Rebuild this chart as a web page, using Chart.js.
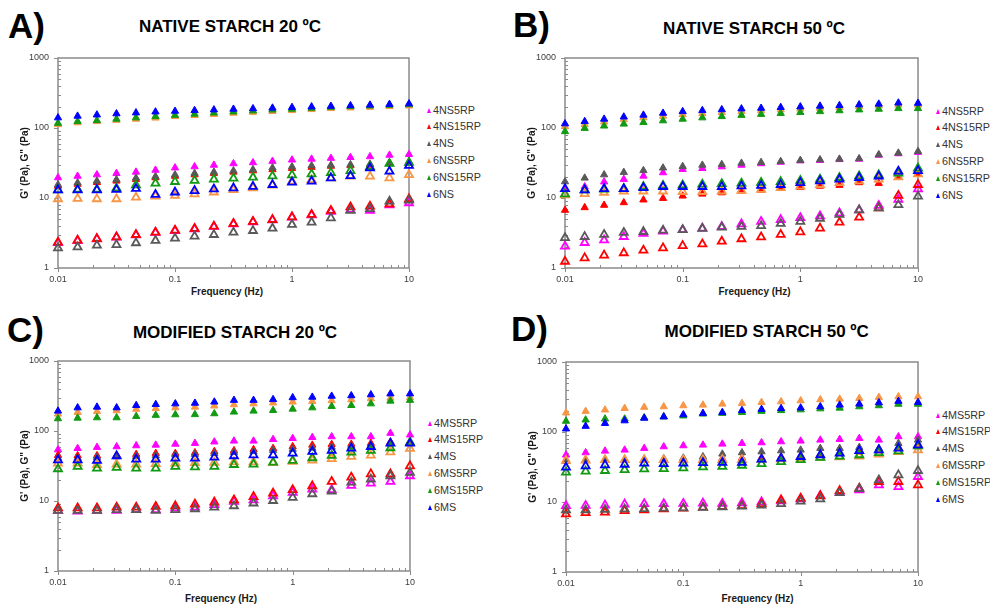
<!DOCTYPE html>
<html>
<head>
<meta charset="utf-8">
<script src="https://cdn.jsdelivr.net/npm/chart.js@4.4.1/dist/chart.umd.min.js"></script>
<style>
  html, body { margin: 0; padding: 0; background: #fff; }
  body { width: 990px; height: 608px; position: relative; overflow: hidden; font-family: Arial, "Liberation Sans", sans-serif; }
  canvas { position: absolute; }
  .letter { position: absolute; font-weight: bold; font-size: 35px; line-height: 35px; color: #000; }
  .title { position: absolute; font-weight: bold; font-size: 17px; line-height: 17px; color: #000; white-space: nowrap; transform: translate(-50%, -50%); }
  .xtitle { position: absolute; font-weight: bold; font-size: 10px; line-height: 10px; color: #1a1a1a; white-space: nowrap; transform: translate(-50%, -50%); }
  .legend { position: absolute; font-size: 10.8px; color: #333; }
  .legend div { height: 16.9px; line-height: 16.9px; white-space: nowrap; }
  .legend i { display: inline-block; width: 0; height: 0; border-left: 2.5px solid transparent; border-right: 2.5px solid transparent; border-bottom: 5px solid; margin-right: 2px; vertical-align: 1px; }
</style>
</head>
<body>
<script>
// oscillation frequencies (Hz), 6 points per decade
const freq = [0.01, 0.0147, 0.0215, 0.0316, 0.0464, 0.0681, 0.1, 0.147, 0.215, 0.316, 0.464, 0.681, 1, 1.47, 2.15, 3.16, 4.64, 6.81, 10];
const xTicks = [0.01, 0.1, 1, 10];
const yTicks = [1, 10, 100, 1000];

const nativeSamples = ['4NS5RP', '4NS15RP', '4NS', '6NS5RP', '6NS15RP', '6NS'];
const modifiedSamples = ['4MS5RP', '4MS15RP', '4MS', '6MS5RP', '6MS15RP', '6MS'];
const sampleColors = ['#ff00ff', '#ff0000', '#595959', '#f79646', '#129a12', '#0000ff'];

// A) native starch 20 ºC  (G1 = G', G2 = G'')
const ns20_4NS5RP_G1 = [19.5, 20.5, 21.5, 22.5, 23.5, 25, 27, 28, 29.5, 31, 32, 33.5, 35, 36, 37, 38, 39, 41, 42];
const ns20_4NS15RP_G1 = [14.8, 15.8, 16.7, 17.5, 18.5, 19.5, 20.5, 21.5, 22.5, 23.5, 24.5, 25.5, 26.5, 27.5, 28.5, 29, 29.5, 31, 32];
const ns20_4NS_G1 = [15.5, 16.5, 17.5, 18.3, 19.3, 20.3, 21.5, 22.5, 23.5, 24.5, 25.5, 27, 28, 29, 29.5, 30, 30.5, 32, 33];
const ns20_6NS5RP_G1 = [112, 119, 124, 129, 134, 139, 146, 151, 157, 163, 168, 173, 178, 184, 190, 194, 198, 203, 207];
const ns20_6NS15RP_G1 = [117, 124, 128, 134, 140, 146, 152, 158, 164, 170, 176, 181, 186, 192, 198, 203, 207, 212, 216];
const ns20_6NS_G1 = [140, 148, 154, 160, 165, 170, 174, 178, 182, 186, 189, 193, 197, 201, 205, 209, 213, 218, 222];
const ns20_4NS5RP_G2 = [2.3, 2.45, 2.6, 2.75, 2.95, 3.2, 3.4, 3.6, 3.9, 4.25, 4.55, 4.85, 5.3, 5.7, 6.4, 6.8, 6.6, 7.9, 8.5];
const ns20_4NS15RP_G2 = [2.33, 2.48, 2.62, 2.77, 2.99, 3.23, 3.45, 3.65, 3.94, 4.3, 4.6, 4.9, 5.35, 5.8, 6.6, 7.4, 7.6, 8.2, 9.7];
const ns20_4NS_G2 = [1.93, 1.99, 2.11, 2.15, 2.28, 2.46, 2.65, 2.83, 2.99, 3.23, 3.41, 3.68, 4.16, 4.5, 5.18, 6.6, 7.0, 8.95, 9.3];
const ns20_6NS5RP_G2 = [9.7, 9.8, 9.7, 9.7, 10.2, 10.6, 10.8, 11.4, 12.1, 13.1, 13.9, 15.2, 17.3, 18.2, 19.3, 20.4, 20.4, 19.3, 21.5];
const ns20_6NS15RP_G2 = [13, 13.3, 13.3, 13.8, 15.3, 16.2, 17.1, 17.7, 18.5, 19.1, 19.7, 20.6, 21.3, 22, 23, 24.5, 28, 31, 32];
const ns20_6NS_G2 = [13, 13, 13, 13.2, 13.6, 11.2, 12.1, 12.7, 13.4, 13.9, 14.6, 15.5, 16.7, 17.3, 19.3, 20.8, 26.8, 24, 29];

// B) native starch 50 ºC
const ns50_4NS5RP_G1 = [13.5, 14.5, 17, 18.5, 20.6, 23, 25.7, 26.5, 28, 29.5, 31, 32.5, 34, 34.5, 35.5, 36, 41, 43, 45];
const ns50_4NS15RP_G1 = [6.7, 7.3, 7.9, 8.6, 9.4, 9.9, 10.7, 11.4, 11.9, 12.6, 13, 13.7, 14.2, 14.8, 15.2, 16.6, 16.2, 19.7, 22];
const ns50_4NS_G1 = [17.1, 19.3, 21.5, 23.3, 24.7, 26.9, 28.3, 29.5, 30.2, 31.5, 32.3, 33.3, 34.5, 35.2, 36, 36.5, 41.6, 43.9, 46.4];
const ns50_6NS5RP_G1 = [105, 113, 122, 132, 140, 148, 156, 162, 167, 172, 177, 182, 187, 192, 197, 202, 207, 213, 213];
const ns50_6NS15RP_G1 = [89, 99, 107, 114, 120, 127, 134, 140, 146, 152, 157, 162, 167, 172, 177, 182, 186, 190, 190];
const ns50_6NS_G1 = [115, 124, 134, 144, 153, 163, 172, 178, 183, 188, 192, 197, 201, 206, 210, 215, 220, 228, 226];
const ns50_4NS5RP_G2 = [2.04, 2.3, 2.5, 2.8, 3.1, 3.35, 3.5, 3.7, 3.9, 4.25, 4.6, 4.9, 5.2, 5.5, 6.1, 6.7, 7.8, 9.5, 13.4];
const ns50_4NS15RP_G2 = [1.24, 1.39, 1.52, 1.64, 1.79, 1.93, 2.08, 2.2, 2.4, 2.6, 2.77, 3.0, 3.27, 3.7, 4.5, 5.3, 7.2, 10.8, 15.5];
const ns50_4NS_G2 = [2.7, 2.8, 3.0, 3.2, 3.3, 3.45, 3.5, 3.65, 3.8, 3.9, 4.0, 4.3, 4.6, 5.1, 5.8, 6.7, 7.2, 8.0, 10.6];
const ns50_6NS5RP_G2 = [11, 11.5, 12, 12.5, 12.5, 12.5, 12.3, 12.3, 12.5, 12.8, 13.2, 14, 14.7, 15.5, 16.5, 17.5, 18.5, 20, 22];
const ns50_6NS15RP_G2 = [11.4, 13, 13.3, 13.5, 14.5, 15, 15.3, 15.7, 15.9, 16.2, 16.6, 17.1, 17.7, 18.5, 19.5, 20.6, 21.3, 22.5, 26.6];
const ns50_6NS_G2 = [13.5, 13, 13.5, 13.5, 14, 14.5, 14.5, 14.5, 14.5, 14.8, 15, 15.5, 16.5, 17.5, 18.5, 19.5, 20.5, 24, 24.5];

// C) modified starch 20 ºC
const ms20_4MS5RP_G1 = [54, 56.5, 58.5, 59.7, 61.7, 63, 65, 66.7, 70, 72, 72, 76, 78.5, 81, 83, 83, 83, 93, 88];
const ms20_4MS15RP_G1 = [45, 44.5, 44.5, 45, 46.5, 48, 48, 49, 51, 52.5, 54.5, 56.5, 60, 63, 64.5, 65, 67, 70, 68];
const ms20_4MS_G1 = [41, 41, 42, 43, 43.5, 44.5, 45.5, 46.5, 48, 49.5, 51, 53, 55, 57, 59, 61, 63, 66, 70];
const ms20_6MS5RP_G1 = [175, 185, 190, 195, 205, 210, 215, 220, 228, 238, 245, 252, 260, 265, 272, 280, 290, 295, 300];
const ms20_6MS15RP_G1 = [150, 153, 155, 155, 162, 168, 171, 172, 177, 187, 193, 197, 206, 215, 225, 232, 245, 268, 275];
const ms20_6MS_G1 = [193, 215, 220, 215, 232, 240, 245, 250, 260, 275, 275, 282, 300, 305, 315, 320, 330, 340, 340];
const ms20_4MS5RP_G2 = [7.3, 7.1, 7.3, 7.3, 7.5, 7.5, 7.9, 8.1, 8.8, 9.8, 10.3, 11.8, 13.2, 14.7, 14.4, 16.6, 17.9, 18.9, 22.8];
const ms20_4MS15RP_G2 = [7.9, 7.9, 7.9, 8.1, 8.1, 8.3, 8.5, 9.0, 9.6, 10.3, 11.5, 12.9, 14.4, 16.4, 18.9, 21.8, 24.3, 24.3, 31.6];
const ms20_4MS_G2 = [7.3, 7.3, 7.3, 7.5, 7.5, 7.3, 7.5, 7.7, 8.1, 8.5, 9.3, 10.1, 11.2, 12.6, 13.8, 18.5, 20.5, 22.8, 25.4];
const ms20_6MS5RP_G2 = [34.5, 34.5, 33, 33.5, 33.5, 34, 34.5, 35, 35.5, 36, 36, 35, 36.5, 38, 40, 43, 45, 50, 56];
const ms20_6MS15RP_G2 = [28.7, 31, 29.3, 30, 29.3, 29.3, 31, 30.5, 31, 33, 33.5, 35.7, 37.8, 41.2, 44.6, 49.6, 52.4, 57.3, 69];
const ms20_6MS_G2 = [38.5, 38.5, 37.7, 44, 39.4, 39.4, 40.7, 40.7, 42, 44, 45.4, 45.4, 48, 50.7, 52.4, 56.6, 59.7, 66.7, 66.7];

// D) modified starch 50 ºC
const ms50_4MS5RP_G1 = [47, 50.7, 53.5, 55.3, 58.5, 61.7, 63.8, 65.2, 67.4, 68.9, 70.4, 72.8, 74.4, 76.8, 78.6, 81.2, 76.8, 85.8, 85.8];
const ms50_4MS15RP_G1 = [40, 40, 40, 40, 40, 40.5, 41, 41.5, 42, 42.5, 43, 44, 46, 48, 50, 52, 54, 60, 66];
const ms50_4MS_G1 = [38, 39, 39.5, 40, 41, 41.5, 42.5, 44.4, 48.5, 50.7, 52.3, 54, 55.3, 58.5, 58.5, 60.4, 58.5, 68.9, 76.8];
const ms50_6MS5RP_G1 = [188, 198, 207, 218, 226, 230, 238, 243, 251, 257, 265, 271, 280, 290, 296, 303, 313, 320, 320];
const ms50_6MS15RP_G1 = [143, 149, 154, 154, 160, 165, 170, 181, 185, 191, 198, 203, 208, 215, 220, 230, 238, 250, 250];
const ms50_6MS_G1 = [111, 121, 133, 145, 158, 165, 177, 185, 191, 203, 211, 217, 221, 230, 243, 251, 262, 275, 265];
const ms50_4MS5RP_G2 = [8.8, 8.9, 9.0, 9.3, 9.4, 9.4, 9.5, 9.6, 9.5, 9.7, 10, 10.3, 11, 12.3, 13.8, 14.8, 17.5, 16.5, 23];
const ms50_4MS15RP_G2 = [6.7, 7.0, 7.1, 7.5, 7.7, 7.9, 8.1, 8.4, 8.6, 8.8, 9.4, 10.7, 11.3, 12.2, 14.5, 15.7, 19.5, 19.5, 17.5];
const ms50_4MS_G2 = [7.7, 7.7, 7.8, 7.9, 8.0, 8.1, 8.2, 8.3, 8.5, 8.7, 9.0, 9.4, 10.2, 11, 13.5, 15.5, 20.6, 24.3, 28];
const ms50_6MS5RP_G2 = [39, 39.5, 40, 40, 40, 40, 40, 40, 40, 40, 40.5, 41, 42, 43, 44, 45, 48, 52, 55];
const ms50_6MS15RP_G2 = [26.5, 27.5, 28, 28.8, 29.5, 29.8, 30.5, 31.5, 32, 33.3, 35, 37.5, 40, 43, 45, 47, 50.5, 53.5, 63];
const ms50_6MS_G2 = [31.3, 32.7, 33.8, 34.4, 35.7, 35, 35.7, 36.3, 36.5, 36.5, 40.7, 42, 44.4, 47, 49.6, 54, 55.3, 58.5, 65.2];

const panels = [
  { letter: 'A)', title: 'NATIVE STARCH 20 ºC', names: nativeSamples,
    g1: [ns20_4NS5RP_G1, ns20_4NS15RP_G1, ns20_4NS_G1, ns20_6NS5RP_G1, ns20_6NS15RP_G1, ns20_6NS_G1],
    g2: [ns20_4NS5RP_G2, ns20_4NS15RP_G2, ns20_4NS_G2, ns20_6NS5RP_G2, ns20_6NS15RP_G2, ns20_6NS_G2] },
  { letter: 'B)', title: 'NATIVE STARCH 50 ºC', names: nativeSamples,
    g1: [ns50_4NS5RP_G1, ns50_4NS15RP_G1, ns50_4NS_G1, ns50_6NS5RP_G1, ns50_6NS15RP_G1, ns50_6NS_G1],
    g2: [ns50_4NS5RP_G2, ns50_4NS15RP_G2, ns50_4NS_G2, ns50_6NS5RP_G2, ns50_6NS15RP_G2, ns50_6NS_G2] },
  { letter: 'C)', title: 'MODIFIED STARCH 20 ºC', names: modifiedSamples,
    g1: [ms20_4MS5RP_G1, ms20_4MS15RP_G1, ms20_4MS_G1, ms20_6MS5RP_G1, ms20_6MS15RP_G1, ms20_6MS_G1],
    g2: [ms20_4MS5RP_G2, ms20_4MS15RP_G2, ms20_4MS_G2, ms20_6MS5RP_G2, ms20_6MS15RP_G2, ms20_6MS_G2] },
  { letter: 'D)', title: 'MODIFIED STARCH 50 ºC', names: modifiedSamples,
    g1: [ms50_4MS5RP_G1, ms50_4MS15RP_G1, ms50_4MS_G1, ms50_6MS5RP_G1, ms50_6MS15RP_G1, ms50_6MS_G1],
    g2: [ms50_4MS5RP_G2, ms50_4MS15RP_G2, ms50_4MS_G2, ms50_6MS5RP_G2, ms50_6MS15RP_G2, ms50_6MS_G2] }
];

// page placement of each panel: plot area [left, top, right, bottom]
const boxes = [
  { letter: [8, 8], title: [230, 26], area: [58, 58, 409, 268], xTitle: [227, 292], legend: [427, 101.6] },
  { letter: [513, 6.5], title: [754, 27.5], area: [565, 58, 918, 268], xTitle: [754.5, 292], legend: [936, 102.6] },
  { letter: [7, 312], title: [235, 332], area: [58, 361, 410, 571], xTitle: [221, 599], legend: [428, 414.6] },
  { letter: [511, 311], title: [766.7, 331.3], area: [566, 362, 918, 572], xTitle: [757.5, 599], legend: [936, 406.6] }
];

const AXIS_W = 58, AXIS_H = 36, PAD_TOP = 18, PAD_RIGHT = 10;
const fontFamily = 'Arial, "Liberation Sans", sans-serif';

// plot frame plus major (outside) and minor (inside) log ticks
const framePlugin = {
  id: 'frame',
  beforeDatasetsDraw(chart) {
    const { ctx, chartArea: a, scales: { x, y } } = chart;
    ctx.save();
    ctx.strokeStyle = '#8a8a8a';
    ctx.lineWidth = 1.5;
    ctx.strokeRect(a.left, a.top, a.right - a.left, a.bottom - a.top);
    ctx.lineWidth = 1;
    ctx.beginPath();
    xTicks.forEach((base, d) => {
      const px = Math.round(x.getPixelForValue(base)) + 0.5;
      ctx.moveTo(px, a.bottom); ctx.lineTo(px, a.bottom + 4);
      if (d < xTicks.length - 1) {
        for (let m = 2; m < 10; m++) {
          const mx = Math.round(x.getPixelForValue(base * m)) + 0.5;
          ctx.moveTo(mx, a.bottom); ctx.lineTo(mx, a.bottom - 3);
        }
      }
    });
    yTicks.forEach((base, d) => {
      const py = Math.round(y.getPixelForValue(base)) + 0.5;
      ctx.moveTo(a.left, py); ctx.lineTo(a.left - 4, py);
      if (d < yTicks.length - 1) {
        for (let m = 2; m < 10; m++) {
          const my = Math.round(y.getPixelForValue(base * m)) + 0.5;
          ctx.moveTo(a.left, my); ctx.lineTo(a.left + 3, my);
        }
      }
    });
    ctx.stroke();
    ctx.restore();
  }
};

function addText(cls, text, x, y) {
  const el = document.createElement('div');
  el.className = cls;
  el.textContent = text;
  el.style.left = x + 'px';
  el.style.top = y + 'px';
  document.body.appendChild(el);
  return el;
}

function makeSet(label, values, color, filled) {
  return {
    label: label,
    data: freq.map((f, i) => ({ x: f, y: values[i] })),
    showLine: false,
    clip: false,
    pointStyle: 'triangle',
    pointRadius: filled ? 4.2 : 4.6,
    pointHoverRadius: filled ? 4.2 : 4.6,
    backgroundColor: filled ? color : 'rgba(0,0,0,0)',
    borderColor: color,
    borderWidth: filled ? 1 : 1.8,
    inLegend: filled
  };
}

panels.forEach((p, k) => {
  const b = boxes[k];
  const [l, t, r, bt] = b.area;

  addText('letter', p.letter, b.letter[0], b.letter[1]);
  addText('title', p.title, b.title[0], b.title[1]);
  addText('xtitle', 'Frequency (Hz)', b.xTitle[0], b.xTitle[1]);

  const cv = document.createElement('canvas');
  cv.width = r - l + AXIS_W + PAD_RIGHT;
  cv.height = bt - t + PAD_TOP + AXIS_H;
  cv.style.left = (l - AXIS_W) + 'px';
  cv.style.top = (t - PAD_TOP) + 'px';
  document.body.appendChild(cv);

  const datasets = [];
  p.names.forEach((name, i) => {
    datasets.push(makeSet(name, p.g1[i], sampleColors[i], true));
    datasets.push(makeSet(name, p.g2[i], sampleColors[i], false));
  });
  // later series sit on top of earlier ones
  datasets.forEach((d, i) => { d.order = datasets.length - i; });

  const chart = new Chart(cv.getContext('2d'), {
    type: 'scatter',
    data: { datasets: datasets },
    options: {
      responsive: false,
      animation: false,
      devicePixelRatio: 1,
      layout: { padding: { left: 0, top: PAD_TOP, right: PAD_RIGHT, bottom: 0 } },
      plugins: { legend: { display: false }, tooltip: { enabled: false } },
      scales: {
        x: {
          type: 'logarithmic', position: 'bottom', min: 0.01, max: 10,
          grid: { display: false, drawTicks: false },
          border: { display: false },
          afterBuildTicks: s => { s.ticks = xTicks.map(v => ({ value: v })); },
          afterFit: s => { s.height = AXIS_H; s.paddingLeft = 0; s.paddingRight = 0; },
          ticks: { autoSkip: false, maxRotation: 0, padding: 6, color: '#404040',
                   font: { family: fontFamily, size: 9 }, callback: v => String(v) }
        },
        y: {
          type: 'logarithmic', position: 'left', min: 1, max: 1000,
          grid: { display: false, drawTicks: false },
          border: { display: false },
          afterBuildTicks: s => { s.ticks = yTicks.map(v => ({ value: v })); },
          afterFit: s => { s.width = AXIS_W; s.paddingTop = 0; s.paddingBottom = 0; },
          ticks: { autoSkip: false, padding: 9, color: '#404040',
                   font: { family: fontFamily, size: 9 }, callback: v => String(v) },
          title: { display: true, text: 'G\' (Pa), G" (Pa)', color: '#1a1a1a',
                   font: { family: fontFamily, size: 10, weight: 'bold' },
                   padding: { top: 19, bottom: 0 } }
        }
      }
    },
    plugins: [framePlugin]
  });

  // legend lists the filled (G') markers only
  const lg = document.createElement('div');
  lg.className = 'legend';
  lg.style.left = b.legend[0] + 'px';
  lg.style.top = b.legend[1] + 'px';
  chart.data.datasets.filter(d => d.inLegend).forEach(d => {
    const row = document.createElement('div');
    const mark = document.createElement('i');
    mark.style.borderBottomColor = d.borderColor;
    row.appendChild(mark);
    row.appendChild(document.createTextNode(d.label));
    lg.appendChild(row);
  });
  document.body.appendChild(lg);
});
</script>
</body>
</html>
